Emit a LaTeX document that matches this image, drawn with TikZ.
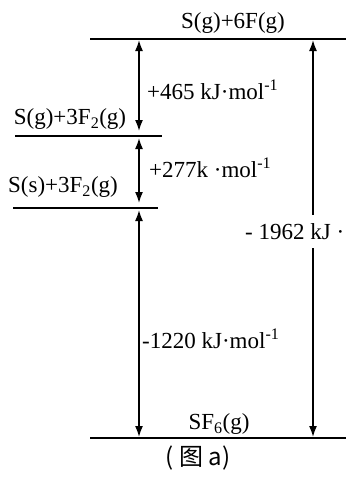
\documentclass[tikz,border=0pt]{standalone}
\usepackage{fontspec}
\setmainfont{Liberation Serif}
\newfontfamily\cjk{Noto Sans CJK SC}
\usetikzlibrary{arrows.meta}
\begin{document}
\begin{tikzpicture}[x=1pt,y=-1pt,
  lvl/.style={line width=1.8pt},
  tip/.tip={Latex[length=11pt,width=8pt]},
  harrow/.style={line width=1.6pt},
  lbl/.style={inner sep=0pt, font=\fontsize{23}{27}\selectfont},
]
\useasboundingbox (0,0) rectangle (346,477);
% levels
\coordinate (L1a) at (90,39);  \coordinate (L1b) at (346,39);
\coordinate (L2a) at (15,136); \coordinate (L2b) at (162,136);
\coordinate (L3a) at (13,208); \coordinate (L3b) at (158,208);
\coordinate (L4a) at (90,438); \coordinate (L4b) at (346,438);
\draw[lvl] (L1a) -- (L1b);
\draw[lvl] (L2a) -- (L2b);
\draw[lvl] (L3a) -- (L3b);
\draw[lvl] (L4a) -- (L4b);
% arrow ends
\coordinate (a1t) at (139,40);  \coordinate (a1b) at (139,131);
\coordinate (a2t) at (139,138); \coordinate (a2b) at (139,203);
\coordinate (a3t) at (139,210); \coordinate (a3b) at (139,437);
\coordinate (rt) at (313,40);   \coordinate (rb) at (313,437);
% labels
\node[lbl] (top) at (233,23) {S(g)+6F(g)};
\node[lbl,anchor=west] (e465) at (147,90) {+465 kJ·mol\textsuperscript{-1}};
\node[lbl] (sg) at (70,119) {S(g)+3F\textsubscript{2}(g)};
\node[lbl,anchor=west] (e277) at (149,168) {+277k ·mol\textsuperscript{-1}};
\node[lbl] (ss) at (63,187) {S(s)+3F\textsubscript{2}(g)};
\node[lbl,anchor=west,minimum height=33pt] (e1962) at (245,231.5) {- 1962 kJ ·};
\node[lbl,anchor=west] (e1220) at (142,339) {-1220 kJ·mol\textsuperscript{-1}};
\node[lbl] (sf6) at (219,424) {SF\textsubscript{6}(g)};
\node[inner sep=0pt,font=\cjk\fontsize{24}{28}\selectfont] (cap) at (198,458) {( 图 a)};
% arrows
\draw[harrow,{tip}-{tip}] (a1t) -- (a1b);
\draw[harrow,{tip}-{tip}] (a2t) -- (a2b);
\draw[harrow,{tip}-{tip}] (a3t) -- (a3b);
\draw[harrow,-{tip}] (rt |- e1962.north) -- (rt);
\draw[harrow,-{tip}] (rt |- e1962.south) -- (rb);
\end{tikzpicture}
\end{document}
